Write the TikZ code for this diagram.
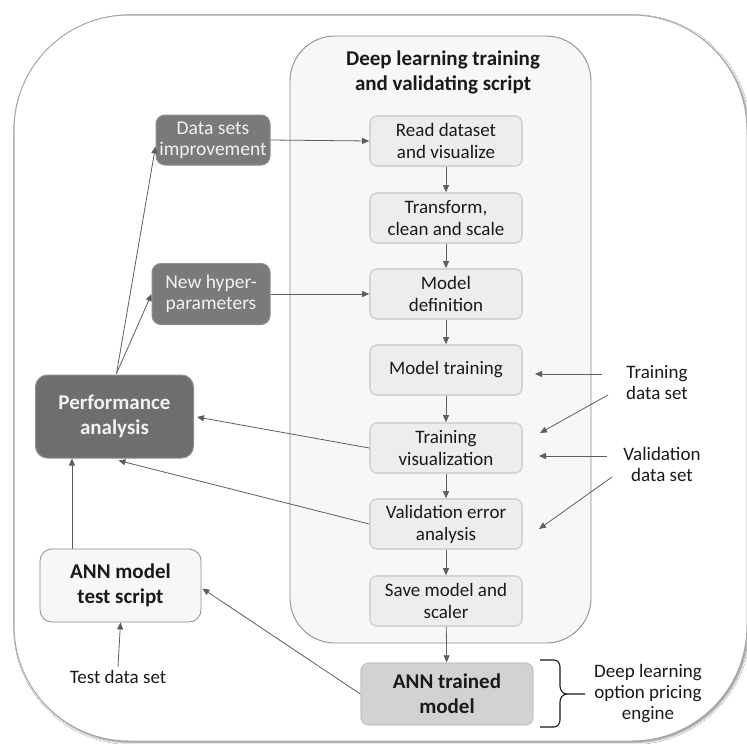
\documentclass[tikz,border=0pt]{standalone}
\usepackage{fontspec}
\setmainfont{Carlito}
\usetikzlibrary{arrows.meta,shadows.blur,calc}

\definecolor{ink}{HTML}{1A1A1A}
\definecolor{wire}{HTML}{5E5E5E}
\definecolor{procfill}{HTML}{EDEDED}
\definecolor{procedge}{HTML}{D4D4D4}
\definecolor{panelfill}{HTML}{F7F7F7}
\definecolor{paneledge}{HTML}{8E8E8E}
\definecolor{darkfill}{HTML}{7A7A7A}
\definecolor{perffill}{HTML}{6E6E6E}
\definecolor{trainedfill}{HTML}{D2D2D2}

\tikzset{
  textbody/.style={font=\fontsize{19}{22}\selectfont, text=ink, align=center},
  textbold/.style={font=\fontsize{21}{25}\selectfont\bfseries, text=ink, align=center},
  procbox/.style={textbody, rounded corners=7pt, fill=procfill, draw=procedge,
    line width=1.6pt, minimum width=152pt, minimum height=50pt, inner sep=0pt},
  darkbox/.style={font=\fontsize{19.5}{21}\selectfont, text=white!95!black, align=center,
    rounded corners=9pt, fill=darkfill, draw=darkfill!85!white, line width=1pt, inner sep=0pt},
  arr/.style={draw=wire, line width=0.8pt, -{Triangle[length=7pt,width=6pt]}},
  label/.style={textbody, font=\fontsize{19}{21}\selectfont},
}

\begin{document}
\begin{tikzpicture}[x=1pt,y=-1pt]
\useasboundingbox (0,0) rectangle (747,744);
\fill[white] (0,0) rectangle (747,744);

% outer frame
\node[draw=gray!70, fill=white, line width=1pt, rounded corners=115pt,
  minimum width=733pt, minimum height=726pt, inner sep=0pt,
  blur shadow={shadow xshift=1.5pt, shadow yshift=-1.5pt, shadow blur steps=6, shadow opacity=45}]
  (frame) at (380.5,378) {};

% script panel
\node[draw=paneledge, fill=panelfill, line width=0.9pt, rounded corners=45pt,
  minimum width=301pt, minimum height=607pt, inner sep=0pt] (panel) at (440.5,339.5) {};
\node[textbold] (title) at (443,72) {Deep learning training\\and validating script};

% processing steps
\node[procbox] (read)    at (446,141) {Read dataset\\and visualize};
\node[procbox] (trans)   at (446,218) {Transform,\\clean and scale};
\node[procbox] (mdef)    at (446,294) {Model\\definition};
\node[procbox] (mtrain)  at (446,370) {Model training};
\node[procbox] (tvis)    at (446,448) {Training\\visualization};
\node[procbox] (verr)    at (446,524) {Validation error\\analysis};
\node[procbox] (save)    at (446,601) {Save model and\\scaler};

\node[textbold, rounded corners=8pt, fill=trainedfill, draw=gray!45, line width=1.4pt,
  minimum width=172pt, minimum height=62pt, inner sep=0pt] (trained) at (447,694) {ANN trained\\model};

% feedback boxes
\node[darkbox, minimum width=114pt, minimum height=50pt] (dsi) at (213,140) {Data sets\\improvement};
\node[darkbox, minimum width=118pt, minimum height=61pt] (nhp) at (211,294) {New hyper-\\parameters};
\node[darkbox, font=\fontsize{21}{25}\selectfont\bfseries, fill=perffill, rounded corners=12pt,
  minimum width=158pt, minimum height=83pt] (perf) at (114.5,416.5) {Performance\\analysis};

\node[textbold, rounded corners=12pt, fill=panelfill, draw=paneledge, line width=0.8pt,
  minimum width=161pt, minimum height=73pt, inner sep=0pt] (test) at (120.5,585.5) {ANN model\\test script};

% external inputs
\node[label] (trainset) at (657,383) {Training\\data set};
\node[label] (validset) at (662,464) {Validation\\data set};
\node[label] (testset)  at (118,677) {Test data set};
\node[label] (engine)   at (648,694) {Deep learning\\option pricing\\engine};

% main pipeline
\draw[arr] (read) -- (trans);
\draw[arr] (trans) -- (mdef);
\draw[arr] (mdef) -- (mtrain);
\draw[arr] (mtrain) -- (tvis);
\draw[arr] (tvis) -- (verr);
\draw[arr] (verr) -- (save);
\draw[arr] (save) -- (trained);

% improvements fed back into the script
\draw[arr] (dsi.east) -- (read.west);
\draw[arr] (nhp.east) -- (mdef.west);

% data set inputs
\coordinate (tA0) at (602,374); \coordinate (tA1) at (535,374);
\coordinate (tB0) at (608,395); \coordinate (tB1) at (540,433);
\coordinate (vA0) at (607,456); \coordinate (vA1) at (539,456);
\coordinate (vB0) at (612,477); \coordinate (vB1) at (539,529);
\draw[arr] (tA0) -- (tA1);
\draw[arr] (tB0) -- (tB1);
\draw[arr] (vA0) -- (vA1);
\draw[arr] (vB0) -- (vB1);

% results into the performance analysis
\draw[arr, shorten >=3pt] (tvis.west) -- (perf.east);
\draw[arr] (verr.west) -- ($(perf.south)+(4,2)$);
\coordinate (tq) at ($(test.north west)!0.2!(test.north east)$);
\draw[arr] (tq) -- (tq |- perf.south);
\draw[arr] (testset.north) -- (test.south);
\draw[arr] (trained.west) -- ($(test.east)+(1,3)$);

% performance analysis drives the improvements
\coordinate (pq) at ($(perf.north)+(2,-1)$);
\draw[arr] (pq) -- ($(dsi.south west)+(0,-19)$);
\draw[arr] (pq) -- (nhp.west);

% brace grouping the trained model as the pricing engine
\draw[ink, line width=1.1pt]
  (540,660) -- (554,660) to[out=0,in=90] (560,667) -- (560,686)
  to[out=270,in=180] (567,694) -- (585,694);
\draw[ink, line width=1.1pt]
  (540,727) -- (554,727) to[out=0,in=270] (560,720) -- (560,702)
  to[out=90,in=180] (567,694);
\end{tikzpicture}
\end{document}
